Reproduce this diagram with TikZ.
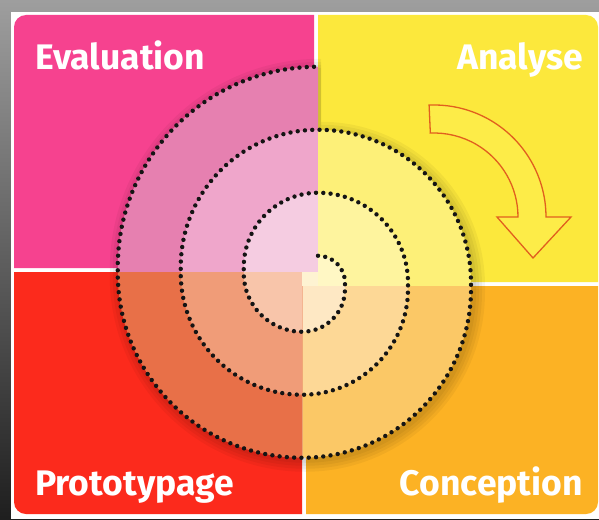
\documentclass[tikz,border=0pt]{standalone}
\usepackage{fontspec}
\setsansfont{Fira Sans}
\usepackage{tikz}

\definecolor{pinkq}{RGB}{246,66,143}
\definecolor{yellowq}{RGB}{252,232,60}
\definecolor{redq}{RGB}{252,42,28}
\definecolor{orangeq}{RGB}{252,178,36}
\definecolor{pinkA}{RGB}{230,128,176}
\definecolor{pinkB}{RGB}{239,166,203}
\definecolor{pinkC}{RGB}{245,204,225}
\definecolor{yelA}{RGB}{253,240,120}
\definecolor{yelB}{RGB}{254,244,158}
\definecolor{yelC}{RGB}{255,247,196}
\definecolor{redA}{RGB}{232,112,72}
\definecolor{redB}{RGB}{240,156,120}
\definecolor{redC}{RGB}{248,197,170}
\definecolor{orA}{RGB}{251,200,102}
\definecolor{orB}{RGB}{253,216,150}
\definecolor{orC}{RGB}{254,232,196}
\definecolor{cream}{RGB}{254,243,210}
\definecolor{arrowline}{RGB}{225,95,30}
\definecolor{arrowfill}{RGB}{253,236,72}

\begin{document}
\begin{tikzpicture}[x=1pt, y=-1pt,
  lbl/.style={text=white, font=\sffamily\bfseries\fontsize{35.5}{35.5}\selectfont, inner sep=0pt},
  spiral/.style={line width=4.4pt, line cap=round, dash pattern=on 0pt off 7.3pt, color=black!92}]
  \useasboundingbox (0,0) rectangle (599,519);

  % frame
  \shade[top color=black!38, bottom color=black!88] (0,0) rectangle (599,519);
  \fill[white] (11,12) rectangle (599,519);

  % the four quarters
  \fill[pinkq] (14,268) -- (14,27) arc[start angle=180, end angle=270, radius=12] -- (314,15) -- (314,268) -- cycle;
  \fill[yellowq] (318,282) -- (318,15) -- (586,15) arc[start angle=-90, end angle=0, radius=12] -- (598,282) -- cycle;
  \fill[redq] (14,272) -- (302,272) -- (302,514) -- (26,514) arc[start angle=90, end angle=180, radius=12] -- cycle;
  \fill[orangeq] (306,286) -- (598,286) -- (598,502) arc[start angle=0, end angle=90, radius=12] -- (306,514) -- cycle;

  % soft shadow under the rings
  \foreach \e in {2,5,8,11} {
    \fill[black, opacity=0.045, shift={(3,3)}] (318,272) -- (318-200.25-\e,272) -- (318-200.25-\e,267) arc[start angle=180, end angle=270, radius=200.25+\e] -- cycle;
    \fill[black, opacity=0.045, shift={(3,3)}] (318,286) -- (318,282.75-153-\e) arc[start angle=-90, end angle=0, radius=153+\e] -- (318+153+\e,286) -- cycle;
    \fill[black, opacity=0.045, shift={(3,3)}] (302.25,286) -- (302.25+168.75+\e,286) -- (302.25+168.75+\e,289) arc[start angle=0, end angle=90, radius=168.75+\e] -- cycle;
    \fill[black, opacity=0.045, shift={(3,3)}] (302.25,272) -- (302.25,273.25+184.5+\e) arc[start angle=90, end angle=180, radius=184.5+\e] -- (302.25-184.5-\e,272) -- cycle;
  }

  % rings
  \foreach \r/\c in {200.25/pinkA, 137.25/pinkB, 74.25/pinkC}
    \fill[\c] (318,272) -- (318-\r,272) -- (318-\r,267) arc[start angle=180, end angle=270, radius=\r] -- cycle;
  \foreach \r/\c in {153/yelA, 90/yelB, 27/yelC}
    \fill[\c] (318,286) -- (318,282.75-\r) arc[start angle=-90, end angle=0, radius=\r] -- (318+\r,286) -- cycle;
  \foreach \r/\c in {168.75/orA, 105.75/orB, 42.75/orC}
    \fill[\c] (302.25,286) -- (302.25+\r,286) -- (302.25+\r,289) arc[start angle=0, end angle=90, radius=\r] -- cycle;
  \foreach \r/\c in {184.5/redA, 121.5/redB, 58.5/redC}
    \fill[\c] (302.25,272) -- (302.25,273.25+\r) arc[start angle=90, end angle=180, radius=\r] -- (302.25-\r,272) -- cycle;
  \fill[cream] (302.25,272) rectangle (318,286);

  % dotted spiral
  \draw[spiral] (318,255.75)
    \foreach \k in {0,1,2} {
      arc[start angle=-90, end angle=0, radius=27+63*\k] -- ++(0,6.25)
      arc[start angle=0, end angle=90, radius=42.75+63*\k]
      arc[start angle=90, end angle=180, radius=58.5+63*\k] -- ++(0,-6.25)
      arc[start angle=180, end angle=270, radius=74.25+63*\k]
    };

  % turning arrow
  \draw[arrowline, fill=arrowfill, line width=1.3pt, line join=miter]
    (429.1,105.1) arc[start angle=-92.5, end angle=0, radius=112]
    -- (571,217) -- (533,258) -- (497,217) -- (518,217)
    arc[start angle=0, end angle=-92.5, radius=84] -- cycle;

  % labels
  \node[lbl, anchor=base west] (E) at (35,70) {Evaluation};
  \node[lbl, anchor=base east] (A) at (583,70) {Analyse};
  \node[lbl, anchor=base west] (P) at (35,495) {Prototypage};
  \node[lbl, anchor=base east] (C) at (583,495) {Conception};
\end{tikzpicture}
\end{document}
